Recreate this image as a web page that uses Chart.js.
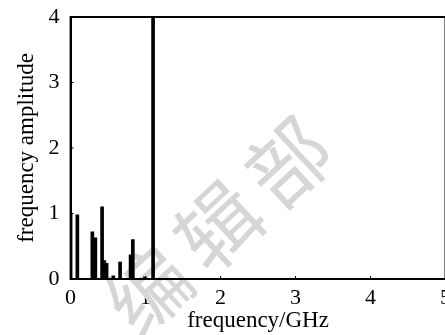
<!DOCTYPE html>
<html>
<head>
<meta charset="utf-8">
<script src="https://cdn.jsdelivr.net/npm/chart.js@4/dist/chart.umd.min.js"></script>
<style>
  html, body { margin: 0; padding: 0; background: #fff; overflow: hidden; }
  #wrap { width: 449px; height: 335px; }
</style>
</head>
<body>
<div id="wrap"><canvas id="spectrum"></canvas></div>
<script>
'use strict';

// spectrum lines
const freqs = [0, 0.09, 0.29, 0.33, 0.42, 0.45, 0.48, 0.57, 0.66, 0.80, 0.83, 0.99, 1.10];
const amps  = [1.0, 0.98, 0.72, 0.63, 1.1, 0.28, 0.24, 0.05, 0.26, 0.37, 0.60, 0.03, 4.0];
const xTicks = [0, 1, 2, 3, 4, 5];
const yTicks = [0, 1, 2, 3, 4];
const watermark = ['编', '辑', '部'];

const serif = 'Liberation Serif';

// light grey diagonal stamp behind everything
const stampPlugin = {
  id: 'stamp',
  beforeDatasetsDraw(chart){
    const ctx = chart.ctx;
    ctx.save();
    ctx.fillStyle = '#d6d6d6';
    ctx.font = '82px "Noto Sans CJK SC"';
    ctx.textAlign = 'center';
    ctx.textBaseline = 'middle';
    watermark.forEach((ch, i) => {
      ctx.save();
      ctx.translate(148 + i * 70, 290 - i * 64);
      ctx.rotate(-Math.PI / 4.2);
      ctx.fillText(ch, 0, 0);
      ctx.restore();
    });
    ctx.restore();
  }
};

// matlab style box with inward ticks
const boxPlugin = {
  id: 'box',
  afterDraw(chart){
    const {ctx, chartArea: a, scales} = chart;
    ctx.save();
    ctx.strokeStyle = '#000';
    ctx.lineWidth = 2;
    ctx.strokeRect(a.left, a.top, a.right - a.left, a.bottom - a.top);
    ctx.lineWidth = 1;
    ctx.beginPath();
    xTicks.forEach(v => {
      const x = scales.x.getPixelForValue(v);
      ctx.moveTo(x, a.bottom); ctx.lineTo(x, a.bottom - 3);
    });
    yTicks.forEach(v => {
      const y = scales.y.getPixelForValue(v);
      ctx.moveTo(a.left, y); ctx.lineTo(a.left + 3, y);
    });
    ctx.stroke();
    ctx.restore();
  }
};

new Chart(document.getElementById('spectrum'), {
  type: 'bar',
  data: {
    datasets: [{
      data: freqs.map((f, i) => ({x: f, y: amps[i]})),
      backgroundColor: '#000',
      borderWidth: 0,
      barThickness: 3
    }]
  },
  options: {
    responsive: true,
    maintainAspectRatio: false,
    animation: false,
    layout: { padding: { top: 17, left: 13, right: 0, bottom: 0 } },
    plugins: { legend: { display: false }, tooltip: { enabled: false } },
    scales: {
      x: {
        type: 'linear',
        offset: false,
        min: 0, max: 5,
        afterBuildTicks: s => { s.ticks = xTicks.map(v => ({value: v})); },
        ticks: { color: '#000', font: { family: serif, size: 22 }, padding: -2, maxRotation: 0 },
        grid: { display: false, offset: false },
        border: { color: '#000', width: 2 },
        title: { display: true, text: 'frequency/GHz', color: '#000', font: { family: serif, size: 23 }, padding: { top: -2, bottom: 0 } }
      },
      y: {
        min: 0, max: 4,
        afterBuildTicks: s => { s.ticks = yTicks.map(v => ({value: v})); },
        ticks: { color: '#000', font: { family: serif, size: 22 }, padding: 3 },
        grid: { display: false },
        border: { color: '#000', width: 2 },
        title: { display: true, text: 'frequency amplitude', color: '#000', font: { family: serif, size: 23 }, padding: { top: 0, bottom: 5 } }
      }
    }
  },
  plugins: [stampPlugin, boxPlugin]
});
</script>
</body>
</html>
